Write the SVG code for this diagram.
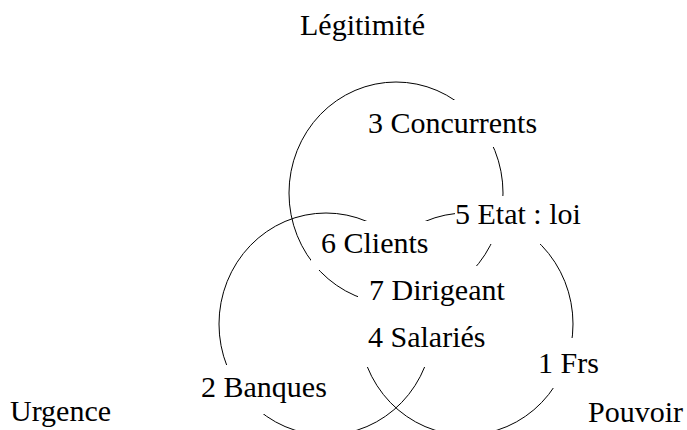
<svg xmlns="http://www.w3.org/2000/svg" width="687" height="430" viewBox="0 0 687 430">
  <style>
    .set { fill: none; stroke: #000; stroke-width: 1; }
    .bg { fill: #fff; stroke: none; }
    .lbl { font-family: "Liberation Serif", "Times New Roman", "DejaVu Serif", serif; font-size: 30px; fill: #000; }
  </style>
  <rect x="0" y="0" width="687" height="430" fill="#fff"/>
  <g id="sets">
    <ellipse id="set-legitimite" class="set" cx="396" cy="193" rx="107" ry="111"/>
    <ellipse id="set-urgence" class="set" cx="326" cy="324" rx="107" ry="111"/>
    <ellipse id="set-pouvoir" class="set" cx="466" cy="324" rx="107" ry="111"/>
  </g>
  <g id="connectors"></g>
  <g id="title-legitimite"><text class="lbl" x="300" y="35">Légitimité</text></g>
  <g id="title-urgence"><text class="lbl" x="10" y="421">Urgence</text></g>
  <g id="title-pouvoir"><text class="lbl" x="588" y="422">Pouvoir</text></g>
  <g id="node-3"><rect class="bg" x="358" y="100" width="192" height="47"/><text class="lbl" x="368" y="133">3 Concurrents</text></g>
  <g id="node-5"><rect class="bg" x="455" y="196" width="132" height="48"/><text class="lbl" x="455" y="224">5 Etat : loi</text></g>
  <g id="node-6"><rect class="bg" x="311" y="221" width="127" height="49"/><text class="lbl" x="321" y="253">6 Clients</text></g>
  <g id="node-7"><rect class="bg" x="358" y="266" width="157" height="50"/><text class="lbl" x="369" y="300">7 Dirigeant</text></g>
  <g id="node-4"><rect class="bg" x="358" y="316" width="137" height="51"/><text class="lbl" x="368" y="347">4 Salariés</text></g>
  <g id="node-1"><rect class="bg" x="528" y="338" width="80" height="50"/><text class="lbl" x="538" y="373">1 Frs</text></g>
  <g id="node-2"><rect class="bg" x="190" y="365" width="147" height="49"/><text class="lbl" x="201" y="397">2 Banques</text></g>
</svg>
